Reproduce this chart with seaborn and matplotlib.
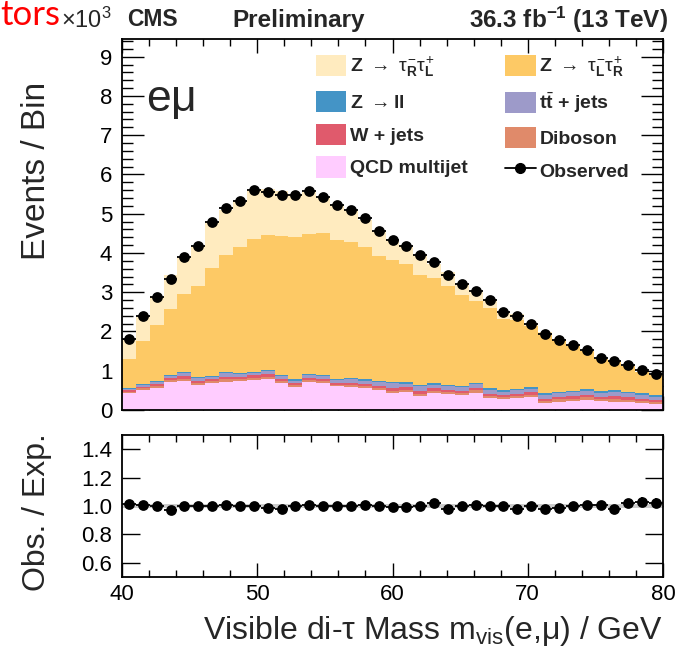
import numpy as np
import pandas as pd
import matplotlib
matplotlib.use("Agg")
import matplotlib.pyplot as plt
import seaborn as sns
from matplotlib.patches import Patch
from matplotlib.lines import Line2D
from matplotlib.ticker import MultipleLocator

sns.set_theme(style="white")
plt.rcParams['font.family'] = ['Liberation Sans', 'DejaVu Sans']
plt.rcParams['mathtext.fontset'] = 'custom'
plt.rcParams['mathtext.rm'] = 'Liberation Sans'
plt.rcParams['mathtext.it'] = 'Liberation Sans'
plt.rcParams['mathtext.bf'] = 'Liberation Sans:bold'

# ---------------- data (events in units of 10^3 per bin) ----------------
x_lo, x_hi, n_bins = 40, 80, 39

observed = [1.80, 2.40, 2.87, 3.33, 3.89, 4.19, 4.80, 5.14, 5.32, 5.60,
            5.56, 5.48, 5.47, 5.57, 5.43, 5.23, 5.10, 4.89, 4.57, 4.32,
            4.17, 3.95, 3.78, 3.44, 3.21, 3.03, 2.80, 2.50, 2.40, 2.20,
            1.94, 1.78, 1.65, 1.52, 1.32, 1.24, 1.15, 1.01, 0.91]

z_tau_rl = [0.49, 0.61, 0.70, 0.86, 0.94, 1.02, 1.19, 1.14, 1.17, 1.24,
            1.16, 1.16, 1.07, 1.06, 0.91, 0.89, 0.83, 0.69, 0.64, 0.53,
            0.49, 0.51, 0.35, 0.36, 0.28, 0.22, 0.21, 0.19, 0.15, 0.06,
            0.02, 0.01, 0.02, 0.01, 0.01, 0.02, 0.01, 0.01, 0.01]

z_tau_lr = [0.74, 1.11, 1.42, 1.68, 1.99, 2.34, 2.74, 2.97, 3.20, 3.38,
            3.44, 3.54, 3.62, 3.57, 3.64, 3.56, 3.46, 3.37, 3.18, 3.11,
            3.01, 2.80, 2.68, 2.51, 2.32, 2.08, 2.04, 1.80, 1.76, 1.56,
            1.53, 1.32, 1.14, 0.97, 0.82, 0.74, 0.65, 0.54, 0.50]

z_ll = [0.01, 0.02, 0.03, 0.02, 0.03, 0.02, 0.02, 0.04, 0.03, 0.03,
        0.03, 0.03, 0.03, 0.03, 0.02, 0.02, 0.03, 0.03, 0.04, 0.04,
        0.04, 0.04, 0.04, 0.04, 0.03, 0.04, 0.04, 0.04, 0.04, 0.04,
        0.04, 0.04, 0.04, 0.04, 0.04, 0.04, 0.04, 0.04, 0.04]

ttbar = [0.04, 0.05, 0.07, 0.06, 0.07, 0.07, 0.07, 0.09, 0.07, 0.07,
         0.08, 0.07, 0.07, 0.07, 0.07, 0.07, 0.09, 0.09, 0.09, 0.12,
         0.09, 0.11, 0.09, 0.09, 0.09, 0.10, 0.10, 0.09, 0.09, 0.09,
         0.10, 0.10, 0.10, 0.10, 0.10, 0.12, 0.11, 0.10, 0.09]

w_jets = [0.03, 0.04, 0.05, 0.05, 0.06, 0.05, 0.05, 0.07, 0.06, 0.06,
          0.07, 0.06, 0.05, 0.05, 0.06, 0.05, 0.06, 0.06, 0.06, 0.07,
          0.06, 0.07, 0.06, 0.06, 0.06, 0.06, 0.06, 0.06, 0.06, 0.06,
          0.06, 0.06, 0.06, 0.07, 0.06, 0.07, 0.06, 0.06, 0.05]

diboson = [0.03, 0.04, 0.05, 0.04, 0.05, 0.05, 0.05, 0.06, 0.05, 0.05,
           0.06, 0.05, 0.05, 0.05, 0.05, 0.04, 0.05, 0.05, 0.05, 0.06,
           0.05, 0.06, 0.05, 0.05, 0.05, 0.06, 0.05, 0.05, 0.05, 0.05,
           0.06, 0.06, 0.06, 0.06, 0.05, 0.07, 0.06, 0.06, 0.05]

qcd = [0.44, 0.51, 0.55, 0.72, 0.75, 0.64, 0.68, 0.72, 0.74, 0.77,
       0.78, 0.68, 0.58, 0.72, 0.68, 0.60, 0.58, 0.55, 0.51, 0.43,
       0.47, 0.36, 0.44, 0.40, 0.38, 0.44, 0.30, 0.27, 0.30, 0.34,
       0.17, 0.21, 0.23, 0.26, 0.23, 0.21, 0.20, 0.17, 0.15]

mc_rel_unc = 0.015

labels = [r"Z $\rightarrow$ $\tau_{\mathbf{R}}^{-}\tau_{\mathbf{L}}^{+}$",
          r"Z $\rightarrow$ $\tau_{\mathbf{L}}^{-}\tau_{\mathbf{R}}^{+}$",
          r"Z $\rightarrow$ll",
          r"t$\bar{\mathbf{t}}$ + jets",
          "W + jets",
          "Diboson",
          "QCD multijet"]
series = [z_tau_rl, z_tau_lr, z_ll, ttbar, w_jets, diboson, qcd]
colors = ["#FFEBBF", "#FDC965", "#4494C6", "#9D9AC9", "#E05A6C", "#E08A6A", "#FFCCFF"]

edges = np.linspace(x_lo, x_hi, n_bins + 1)
centers = 0.5 * (edges[:-1] + edges[1:])
half_w = 0.5 * (edges[1] - edges[0])

df = pd.concat([pd.DataFrame({"m": centers, "w": vals, "proc": lab})
                for lab, vals in zip(labels, series)], ignore_index=True)
palette = dict(zip(labels, colors))

obs = np.array(observed)
obs_err = np.sqrt(obs * 1000.0) / 1000.0
total = np.sum([np.array(s) for s in series], axis=0)
ratio = obs / total
ratio_err = obs_err / total

# ---------------- figure ----------------
W, H = 686, 651
fig = plt.figure(figsize=(W / 100, H / 100), dpi=100)
ax = fig.add_axes([122 / W, 1 - 410 / H, 541 / W, 371 / H])
ax2 = fig.add_axes([122 / W, 1 - 577 / H, 541 / W, 142 / H])

sns.histplot(data=df, x="m", weights="w", hue="proc", hue_order=labels,
             palette=palette, bins=edges.tolist(), multiple="stack",
             element="step", fill=True, alpha=1, linewidth=0, legend=False,
             ax=ax)

ax.errorbar(centers, obs, xerr=half_w, yerr=obs_err, fmt="none",
            ecolor="black", elinewidth=1.3, capsize=0, zorder=4)
sns.scatterplot(x=centers, y=obs, color="black", s=60, linewidth=0,
                ax=ax, zorder=5)

ax.set_xlim(x_lo, x_hi)
ax.set_ylim(0, 9.45)
ax.xaxis.set_major_locator(MultipleLocator(10))
ax.xaxis.set_minor_locator(MultipleLocator(2))
ax.yaxis.set_major_locator(MultipleLocator(1))
ax.yaxis.set_minor_locator(MultipleLocator(0.2))
ax.set_xlabel("")

# ratio panel
ax2.fill_between(edges, 1 - mc_rel_unc, 1 + mc_rel_unc, step="post",
                 color="#CCCCCC", linewidth=0, zorder=1)
ax2.errorbar(centers, ratio, xerr=half_w, yerr=ratio_err, fmt="none",
             ecolor="black", elinewidth=1.3, capsize=0, zorder=4)
sns.scatterplot(x=centers, y=ratio, color="black", s=60, linewidth=0,
                ax=ax2, zorder=5)
ax2.set_xlim(x_lo, x_hi)
ax2.set_ylim(0.5, 1.5)
ax2.set_yticks([0.6, 0.8, 1.0, 1.2, 1.4])
ax2.set_yticklabels(["0.6", "0.8", "1.0", "1.2", "1.4"])
ax2.xaxis.set_major_locator(MultipleLocator(10))
ax2.xaxis.set_minor_locator(MultipleLocator(2))

for a in (ax, ax2):
    a.tick_params(which="both", direction="in", bottom=True, left=True,
                  top=True, right=True, colors="black", labelsize=16,
                  width=1.0)
    for sp in a.spines.values():
        sp.set_visible(True)
        sp.set_color("black")
        sp.set_linewidth(1.3)
ax.tick_params(axis="x", labelbottom=False)
ax.tick_params(axis="y", which="major", length=16, pad=7)
ax.tick_params(axis="y", which="minor", length=8)
ax.tick_params(axis="x", which="major", length=10)
ax.tick_params(axis="x", which="minor", length=5)
ax2.tick_params(axis="y", which="major", length=13, pad=7)
ax2.tick_params(axis="y", which="minor", length=0)
ax2.tick_params(axis="x", which="major", length=10, pad=5)
ax2.tick_params(axis="x", which="minor", length=5)

ax.set_ylabel("Events / Bin", fontsize=24, loc="top")
ax.yaxis.set_label_coords(-0.13, 0.885)
ax2.set_ylabel("Obs. / Exp.", fontsize=23)
ax2.yaxis.set_label_coords(-0.13, 0.46)
ax2.set_xlabel(r"Visible di-$\tau$ Mass m$_{\rm vis}$(e,$\mu$) / GeV",
               fontsize=23, loc="right")
ax2.xaxis.set_label_coords(1.0, -0.26)
ax2.xaxis.label.set_va("top")

# legend
handles = [Patch(facecolor=c, edgecolor="none") for c in colors]
obs_handle = Line2D([], [], color="black", marker="o", markersize=7, lw=1.3)
by = dict(zip(labels, handles))
order_handles = [by[labels[0]], by[labels[2]], by[labels[4]], by[labels[6]],
                 by[labels[1]], by[labels[3]], by[labels[5]], obs_handle]
order_labels = [labels[0], labels[2], labels[4], labels[6],
                labels[1], labels[3], labels[5], "Observed"]
ax.legend(order_handles, order_labels, ncol=2, loc="upper left",
          bbox_to_anchor=(0.358, 0.958), frameon=False, borderpad=0,
          borderaxespad=0, handlelength=1.55, handleheight=1.3,
          handletextpad=0.2, labelspacing=0.6, columnspacing=1.95,
          prop={"weight": "bold", "size": 14})

ax.text(0.045, 0.835, r"e$\mu$", transform=ax.transAxes, fontsize=32,
        va="center", ha="left")

# header
fig.text(0 / W, 1 - 15 / H, "tors", color="#FF0000", fontsize=25,
         family=["Lato", "DejaVu Sans"], va="center", ha="left")
fig.text(61 / W, 1 - 20 / H, r"$\times$10$^{3}$", fontsize=17,
         va="center", ha="left")
fig.text(127 / W, 1 - 20 / H, "CMS", fontsize=16.5, weight="bold",
         va="center", ha="left")
fig.text(232 / W, 1 - 20 / H, "Preliminary", fontsize=17.5, weight="bold",
         va="center", ha="left")
fig.text(668 / W, 1 - 20 / H, r"36.3 fb$^{\mathbf{-1}}$ (13 TeV)",
         fontsize=17.5, weight="bold", va="center", ha="right")

fig.savefig("out.png", dpi=100, facecolor="white")
